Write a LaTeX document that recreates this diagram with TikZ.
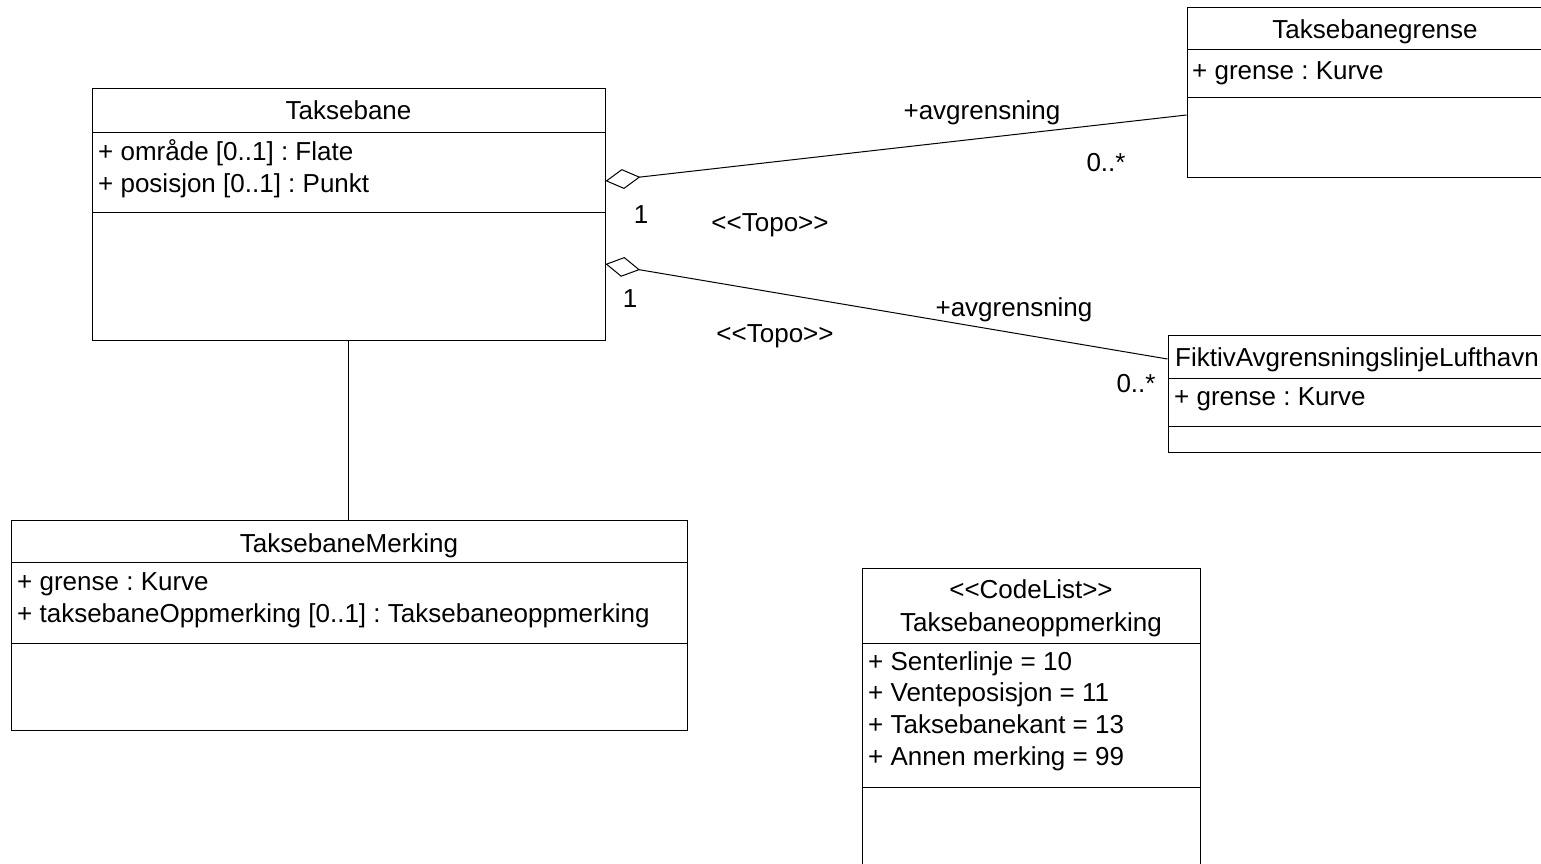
\documentclass[tikz,border=0pt]{standalone}
\usepackage{fontspec}
\setmainfont{Liberation Sans}[Ligatures=TeXOff]
\usetikzlibrary{arrows.meta}
\frenchspacing
\tikzset{
  classbox/.style={draw=black, line width=1pt, fill=white, inner sep=0pt, rectangle},
  sep/.style={draw=black, line width=1pt},
  txt/.style={inner sep=0pt, font=\fontsize{26}{32}\selectfont\frenchspacing, text=black},
  assoc/.style={draw=black, line width=1pt},
  aggr/.style={draw=black, line width=1pt, {Diamond[open, length=35pt, width=20pt, fill=white]}-},
}
\begin{document}
\begin{tikzpicture}[x=1pt, y=-1pt]
\useasboundingbox (0,0) rectangle (1541,864);
\clip (0,0) rectangle (1541,864);
\fill[white] (0,0) rectangle (1541,864);

% ---- Taksebane
\node[classbox, minimum width=513pt, minimum height=251pt] (taksebane) at (348.5,214.5) {};
\draw[sep] (92,133) -- (605,133);
\draw[sep] (92,212) -- (605,212);
\node[txt, anchor=base] (taksebaneT) at (348.5,120) {Taksebane};
\node[txt, anchor=base west] (taksebaneA1) at (98,160) {+ område [0..1] : Flate};
\node[txt, anchor=base west] (taksebaneA2) at (98,192) {+ posisjon [0..1] : Punkt};

% ---- Taksebanegrense
\node[classbox, minimum width=376pt, minimum height=169pt] (grense) at (1375,92.5) {};
\draw[sep] (1187,50) -- (1563,50);
\draw[sep] (1187,98) -- (1563,98);
\node[txt, anchor=base] (grenseT) at (1375,39) {Taksebanegrense};
\node[txt, anchor=base west] (grenseA1) at (1192,80) {+ grense : Kurve};

% ---- FiktivAvgrensningslinjeLufthavn
\node[classbox, minimum width=380pt, minimum height=117pt] (fiktiv) at (1358,393.5) {};
\draw[sep] (1168,378) -- (1548,378);
\draw[sep] (1168,426) -- (1548,426);
\node[txt, anchor=base] (fiktivT) at (1357,366) {FiktivAvgrensningslinjeLufthavn};
\node[txt, anchor=base west] (fiktivA1) at (1174,405) {+ grense : Kurve};

% ---- TaksebaneMerking
\node[classbox, minimum width=676pt, minimum height=210pt] (merking) at (349,625) {};
\draw[sep] (11,562) -- (687,562);
\draw[sep] (11,643) -- (687,643);
\node[txt, anchor=base] (merkingT) at (349,552) {TaksebaneMerking};
\node[txt, anchor=base west] (merkingA1) at (17,590) {+ grense : Kurve};
\node[txt, anchor=base west] (merkingA2) at (17,622) {+ taksebaneOppmerking [0..1] : Taksebaneoppmerking};

% ---- Taksebaneoppmerking (CodeList)
\node[classbox, minimum width=338pt, minimum height=332pt] (kode) at (1031,734) {};
\draw[sep] (862,643) -- (1200,643);
\draw[sep] (862,787) -- (1200,787);
\node[txt, anchor=base] (kodeS) at (1031,598) {<<CodeList>>};
\node[txt, anchor=base] (kodeT) at (1031,631) {Taksebaneoppmerking};
\node[txt, anchor=base west] (kodeA1) at (868,670) {+ Senterlinje = 10};
\node[txt, anchor=base west] (kodeA2) at (868,701) {+ Venteposisjon = 11};
\node[txt, anchor=base west] (kodeA3) at (868,733) {+ Taksebanekant = 13};
\node[txt, anchor=base west] (kodeA4) at (868,765) {+ Annen merking = 99};

% ---- connectors
\draw[assoc] (taksebane.south) -- (taksebane.south |- merking.north);
\draw[aggr] (taksebane.east |- 0,181) -- (grense.west |- 0,115);
\draw[aggr] (taksebane.east |- 0,264) -- (fiktiv.west |- 0,359);

% ---- association labels
\node[txt, anchor=base] (r1) at (982,120) {+avgrensning};
\node[txt, anchor=base] (m1b) at (1106,171) {0..*};
\node[txt, anchor=base] (m1a) at (641,223) {1};
\node[txt, anchor=base] (s1) at (770,231) {<<Topo>>};
\node[txt, anchor=base] (m2a) at (630,307) {1};
\node[txt, anchor=base] (s2) at (775,342) {<<Topo>>};
\node[txt, anchor=base] (r2) at (1014,316) {+avgrensning};
\node[txt, anchor=base] (m2b) at (1136,392) {0..*};
\end{tikzpicture}
\end{document}
